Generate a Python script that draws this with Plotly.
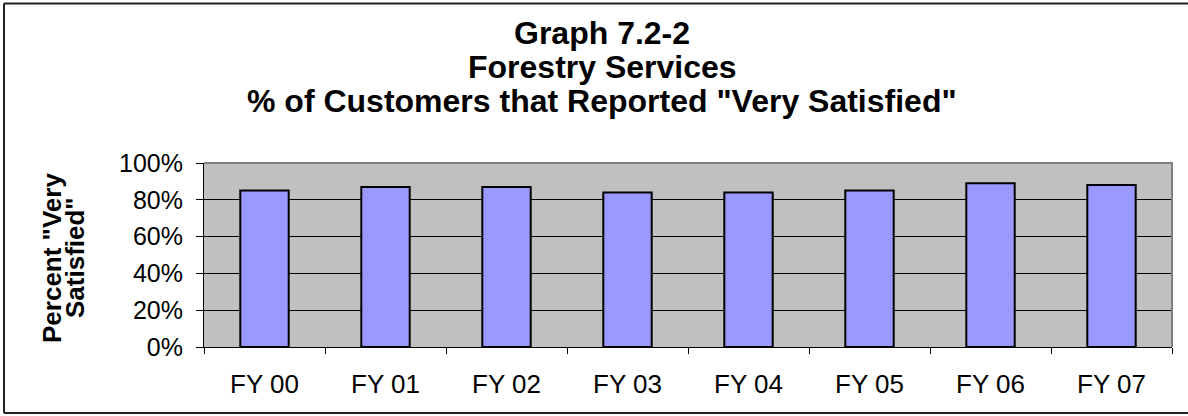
import plotly.graph_objects as go

categories = ["FY 00", "FY 01", "FY 02", "FY 03", "FY 04", "FY 05", "FY 06", "FY 07"]
values = [0.85, 0.87, 0.87, 0.84, 0.84, 0.85, 0.89, 0.88]
title_lines = ["Graph 7.2-2", "Forestry Services", "% of Customers that Reported \"Very Satisfied\""]
ytitle_lines = ["Percent \"Very", "Satisfied\""]

W, H = 1188, 416
L, R, T, B = 204, 1172, 163, 347  # plot area pixels
pw, ph = R - L, B - T

def px(x):
    return (x - L) / pw

def py(y):
    return (B - y) / ph

FONT = "Liberation Sans, Arial, sans-serif"

fig = go.Figure()
fig.add_trace(go.Bar(
    x=categories, y=values,
    marker=dict(color="#9999FF", line=dict(color="black", width=2)),
    width=0.4,
))

annotations = []
for txt, yc in zip(title_lines, [33, 67, 101]):
    annotations.append(dict(text=f"<b>{txt}</b>", x=px(602), y=py(yc), xref="paper", yref="paper",
                            xanchor="center", yanchor="middle", showarrow=False,
                            font=dict(family=FONT, size=32, color="black")))
for txt, xc in zip(ytitle_lines, [52, 75]):
    annotations.append(dict(text=f"<b>{txt}</b>", x=px(xc), y=py(258), xref="paper", yref="paper",
                            xanchor="center", yanchor="middle", showarrow=False, textangle=-90,
                            font=dict(family=FONT, size=26, color="black")))

shapes = [
    # gray top/right border of plot area
    dict(type="path", path="M 0,1 L 1,1 L 1,0", xref="paper", yref="paper",
         line=dict(color="#808080", width=2), layer="above"),
    # outer chart frame: left, top and bottom edges
    dict(type="line", x0=px(4), x1=px(4), y0=py(3.5), y1=py(413), xref="paper", yref="paper",
         line=dict(color="#222222", width=2), layer="below"),
    dict(type="line", x0=px(4), x1=px(1188), y0=py(3.5), y1=py(3.5), xref="paper", yref="paper",
         line=dict(color="#222222", width=2), layer="below"),
    dict(type="line", x0=px(4), x1=px(1188), y0=py(413), y1=py(413), xref="paper", yref="paper",
         line=dict(color="#222222", width=2), layer="below"),
]

fig.update_layout(
    width=W, height=H,
    margin=dict(l=L, r=W - R, t=T, b=H - B),
    paper_bgcolor="white", plot_bgcolor="#C0C0C0",
    showlegend=False,
    annotations=annotations,
    shapes=shapes,
    font=dict(family=FONT, color="black"),
    xaxis=dict(
        type="category", showgrid=False, showline=True, linecolor="black", linewidth=1,
        ticks="outside", tickson="boundaries", ticklen=6, tickcolor="black",
        tickfont=dict(family=FONT, size=26, color="black"), ticklabelstandoff=14,
    ),
    yaxis=dict(
        range=[0, 1], dtick=0.2, tickformat=".0%", showgrid=True, gridcolor="black", gridwidth=1,
        showline=True, linecolor="black", linewidth=1, ticks="outside", ticklen=7, tickcolor="black",
        tickfont=dict(family=FONT, size=25, color="black"), ticklabelstandoff=8, zeroline=False,
    ),
)

fig.write_html("out.html", config={"displayModeBar": False},
               post_script="document.body.style.margin='0';document.body.style.overflow='hidden';")
